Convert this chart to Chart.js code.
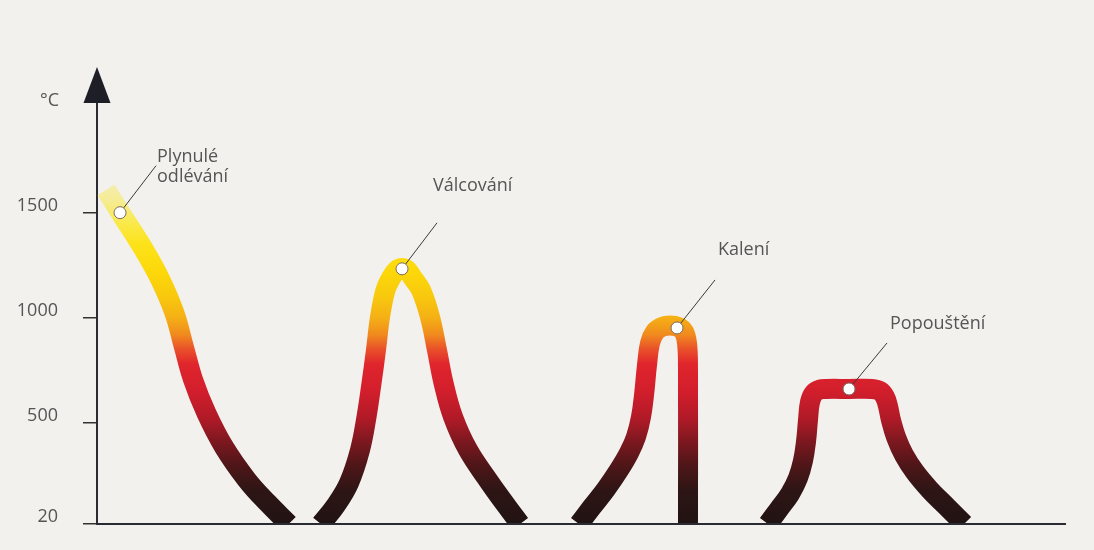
<!DOCTYPE html>
<html><head><meta charset="utf-8">
<script src="https://cdn.jsdelivr.net/npm/chart.js@4.4.1/dist/chart.umd.min.js"></script>
<style>html,body{margin:0;padding:0;background:#f2f1ee;overflow:hidden}</style>
</head><body>
<canvas id="c" width="1094" height="550"></canvas>
<script>
// ---- data ----
const yTickValues = [20, 500, 1000, 1500];
const unitLabel = '°C';

const castX = [0.93, 2.38, 4.86, 6.56, 8.00, 8.98, 9.93, 11.29, 13.12, 15.50, 17.63, 19.80];
const castT = [1608, 1503, 1323, 1180, 1023, 861, 705, 548, 386, 229, 120, 20];

const rollX = [23.14, 24.69, 26.03, 27.17, 27.84, 28.36, 28.82, 29.24, 29.80, 30.37, 30.99, 31.51, 32.02, 32.64, 33.47, 34.40, 35.12, 35.80, 36.78, 38.33, 40.60, 42.25, 43.70];
const rollT = [20, 110, 215, 372, 529, 690, 847, 1004, 1132, 1189, 1228, 1237, 1228, 1189, 1132, 1004, 847, 690, 529, 372, 215, 110, 20];

const quenchX = [49.79, 51.14, 52.58, 53.93, 54.96, 55.68, 56.20, 56.51, 56.82, 57.13, 57.64, 58.37, 59.19, 60.02, 60.64, 60.95, 61.05, 61.05];
const quenchT = [20, 101, 186, 277, 358, 434, 529, 633, 776, 880, 933, 957, 964, 957, 933, 880, 776, 20];

const temperX = [69.32, 70.45, 71.59, 72.42, 72.93, 73.24, 73.45, 73.66, 74.07, 74.69, 75.31, 77.69, 80.06, 80.89, 81.40, 81.71, 82.02, 82.54, 83.37, 84.50, 86.05, 87.81, 89.57];
const temperT = [20, 91, 163, 239, 320, 410, 514, 600, 643, 659, 662, 662, 662, 652, 624, 581, 514, 434, 348, 267, 182, 101, 20];

const noteLabels = [['Plynulé', 'odlévání'], ['Válcování'], ['Kalení'], ['Popouštění']];
const noteX = [2.38, 31.51, 59.92, 77.69];
const noteT = [1500, 1233, 952, 662];

// ---- layout / style (not data) ----
const noteLayout = [
  {lineEnd: [36, -47], text: [37, -51], lineGap: 20},
  {lineEnd: [35, -46], text: [31, -78], lineGap: 20},
  {lineEnd: [38, -48], text: [41, -73], lineGap: 20},
  {lineEnd: [38, -46], text: [41, -60], lineGap: 20}
];
const FONT = '"Open Sans", "Noto Sans", sans-serif';
const TEXT_COLOR = '#555555';
const AXIS_COLOR = '#2b2b33';
const gradStops = [
  [20, '#211313'], [180, '#2e1515'], [300, '#4f1618'], [420, '#801820'],
  [520, '#b01a27'], [650, '#d21e2c'], [780, '#e0252d'], [850, '#e9502a'],
  [920, '#f08a1e'], [1000, '#f5b015'], [1100, '#f8c80e'], [1220, '#fcd80a'],
  [1350, '#fde21a'], [1450, '#f9e94a'], [1550, '#f6ec90'], [1650, '#f4ecb5']
];

let gradCache = null;
function heatGradient(context) {
  const chart = context.chart;
  const area = chart.chartArea;
  if (!area) return '#c41b2a';
  const ys = chart.scales.y;
  const y0 = ys.getPixelForValue(gradStops[0][0]);
  const y1 = ys.getPixelForValue(gradStops[gradStops.length - 1][0]);
  const key = y0 + ':' + y1;
  if (gradCache && gradCache.key === key) return gradCache.g;
  const g = chart.ctx.createLinearGradient(0, y0, 0, y1);
  const span = gradStops[gradStops.length - 1][0] - gradStops[0][0];
  gradStops.forEach(([t, c]) => g.addColorStop((t - gradStops[0][0]) / span, c));
  gradCache = {key, g};
  return g;
}

function series(xs, ts) { return xs.map((x, i) => ({x, y: ts[i]})); }
function curve(xs, ts) {
  return {
    data: series(xs, ts),
    borderColor: heatGradient,
    borderWidth: 20,
    borderCapStyle: 'butt',
    borderJoinStyle: 'round',
    tension: 0.4,
    pointRadius: 0,
    fill: false,
    clip: {left: 15, top: 15, right: 15, bottom: -1}
  };
}

const bgPlugin = {
  id: 'bg',
  beforeDraw(chart) {
    const {ctx, width, height} = chart;
    ctx.save();
    ctx.fillStyle = '#f2f1ee';
    ctx.fillRect(0, 0, width, height);
    ctx.restore();
  }
};

const axisExtras = {
  id: 'axisExtras',
  afterDraw(chart) {
    const {ctx, chartArea} = chart;
    const x = chartArea.left;
    ctx.save();
    ctx.strokeStyle = AXIS_COLOR;
    ctx.lineWidth = 2;
    ctx.beginPath();
    ctx.moveTo(x, chartArea.top + 1);
    ctx.lineTo(x, 100);
    ctx.stroke();
    ctx.fillStyle = '#1e1e26';
    ctx.beginPath();
    ctx.moveTo(x, 67);
    ctx.lineTo(x - 13.5, 103);
    ctx.lineTo(x + 13.5, 103);
    ctx.closePath();
    ctx.fill();
    ctx.fillStyle = TEXT_COLOR;
    ctx.font = '18px ' + FONT;
    ctx.textAlign = 'right';
    ctx.textBaseline = 'alphabetic';
    ctx.fillText(unitLabel, 59, 106);
    ctx.restore();
  }
};

const notesPlugin = {
  id: 'notes',
  afterDatasetsDraw(chart) {
    const {ctx} = chart;
    const xs = chart.scales.x, ys = chart.scales.y;
    ctx.save();
    noteLabels.forEach((lines, i) => {
      const px = xs.getPixelForValue(noteX[i]);
      const py = ys.getPixelForValue(noteT[i]);
      const L = noteLayout[i];
      const ex = px + L.lineEnd[0], ey = py + L.lineEnd[1];
      const d = Math.hypot(ex - px, ey - py);
      const r = 6;
      ctx.strokeStyle = '#3a3a3a';
      ctx.lineWidth = 1;
      ctx.beginPath();
      ctx.moveTo(px + (ex - px) * r / d, py + (ey - py) * r / d);
      ctx.lineTo(ex, ey);
      ctx.stroke();
      ctx.beginPath();
      ctx.arc(px, py, r, 0, Math.PI * 2);
      ctx.fillStyle = '#ffffff';
      ctx.fill();
      ctx.strokeStyle = '#7a6a60';
      ctx.stroke();
      ctx.fillStyle = TEXT_COLOR;
      ctx.font = '18px ' + FONT;
      ctx.textAlign = 'left';
      ctx.textBaseline = 'alphabetic';
      lines.forEach((s, k) => ctx.fillText(s, px + L.text[0], py + L.text[1] + k * L.lineGap));
    });
    ctx.restore();
  }
};

Chart.defaults.font.family = FONT;

new Chart(document.getElementById('c'), {
  type: 'line',
  data: {
    datasets: [curve(castX, castT), curve(rollX, rollT), curve(quenchX, quenchT), curve(temperX, temperT)]
  },
  options: {
    responsive: false,
    animation: false,
    devicePixelRatio: 1,
    layout: {padding: {top: 107.5, right: 29, bottom: 26, left: 0}},
    plugins: {legend: {display: false}, tooltip: {enabled: false}},
    scales: {
      x: {
        type: 'linear', min: 0, max: 100,
        ticks: {display: false},
        grid: {display: false, drawTicks: false},
        border: {display: true, color: AXIS_COLOR, width: 2}
      },
      y: {
        type: 'linear', min: 20, max: 2000,
        afterBuildTicks(scale) { scale.ticks = yTickValues.map(v => ({value: v})); },
        afterFit(scale) { scale.width = 97; scale.paddingTop = 0; scale.paddingBottom = 0; },
        ticks: {
          color: TEXT_COLOR, font: {size: 18, family: FONT}, padding: 25, labelOffset: -7,
          callback: (v) => String(v)
        },
        grid: {display: true, drawOnChartArea: false, drawTicks: true, tickLength: 14, color: '#333333', lineWidth: 1.5},
        border: {display: true, color: AXIS_COLOR, width: 2}
      }
    }
  },
  plugins: [bgPlugin, axisExtras, notesPlugin]
});
</script>
</body></html>
